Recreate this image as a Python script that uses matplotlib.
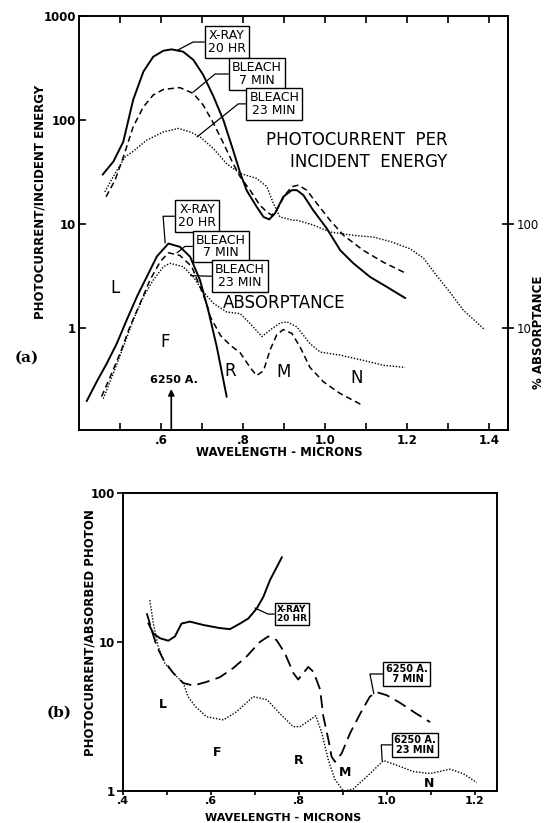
import numpy as np
import matplotlib.pyplot as plt

plt.rcParams['font.family'] = ['DejaVu Sans']

# ---- panel (a): photocurrent per incident energy ----
pe_xray_x = [0.458, 0.484, 0.508, 0.532, 0.557, 0.581, 0.606, 0.626, 0.654, 0.679, 0.703, 0.728, 0.752,
             0.776, 0.793, 0.809, 0.833, 0.850, 0.864, 0.878, 0.898, 0.919, 0.931, 0.947, 0.971, 1.004,
             1.037, 1.069, 1.110, 1.150, 1.195]
pe_xray_y = [30, 40, 62, 156, 292, 406, 464, 478, 454, 378, 271, 168, 100,
             51, 31, 21, 14.7, 11.7, 11.1, 12.7, 18.3, 21.2, 21.2, 19, 13.6, 9.1,
             5.6, 4.2, 3.1, 2.5, 1.95]

pe_b7_x = [0.466, 0.488, 0.508, 0.532, 0.557, 0.581, 0.606, 0.646, 0.679, 0.703, 0.728, 0.752, 0.776,
           0.793, 0.817, 0.841, 0.858, 0.870, 0.882, 0.902, 0.919, 0.935, 0.955, 0.980, 1.012, 1.045,
           1.093, 1.142, 1.195]
pe_b7_y = [18.3, 26.5, 44, 86, 134, 174, 197, 205, 180, 139, 93, 60, 38,
           28.5, 21.2, 15.2, 13.1, 12.2, 13.6, 19, 22.9, 23.7, 21.2, 15.8, 10.9, 7.8,
           5.6, 4.3, 3.4]

pe_b23_x = [0.463, 0.488, 0.512, 0.532, 0.565, 0.606, 0.642, 0.671, 0.695, 0.728, 0.760, 0.793, 0.833,
            0.858, 0.874, 0.890, 0.923, 0.931, 0.971, 1.012, 1.069, 1.118, 1.159, 1.207, 1.240, 1.272,
            1.305, 1.337, 1.390]
pe_b23_y = [20.4, 30.7, 44, 50, 64, 77, 83, 77, 69, 53, 38, 30.7, 27.5,
            22.9, 15.8, 11.7, 10.9, 10.9, 9.8, 8.4, 7.8, 7.5, 6.8, 5.8, 4.7, 3.2,
            2.2, 1.49, 0.96]

# ---- panel (a): absorptance ----
ab_xray_x = [0.419, 0.443, 0.468, 0.492, 0.516, 0.541, 0.565, 0.590, 0.618, 0.646, 0.671, 0.695, 0.715,
             0.736, 0.760]
ab_xray_y = [0.20, 0.305, 0.46, 0.71, 1.19, 2.0, 3.1, 4.9, 6.5, 6.05, 4.85, 2.9, 1.49, 0.66, 0.22]

ab_b7_x = [0.455, 0.476, 0.500, 0.524, 0.549, 0.573, 0.598, 0.618, 0.646, 0.675, 0.695, 0.711, 0.720,
           0.745, 0.770, 0.793, 0.817, 0.833, 0.850, 0.866, 0.882, 0.898, 0.919, 0.939, 0.963, 0.996,
           1.037, 1.093]
ab_b7_y = [0.22, 0.34, 0.57, 1.03, 1.73, 2.9, 4.35, 5.3, 5.0, 3.9, 2.5, 1.73, 1.29,
           0.85, 0.68, 0.58, 0.42, 0.35, 0.39, 0.62, 0.86, 0.97, 0.89, 0.66, 0.42, 0.305,
           0.235, 0.18]

ab_b23_x = [0.459, 0.484, 0.508, 0.532, 0.557, 0.581, 0.606, 0.622, 0.654, 0.679, 0.703, 0.728, 0.760,
            0.793, 0.817, 0.846, 0.866, 0.890, 0.907, 0.931, 0.963, 0.988, 1.037, 1.093, 1.142, 1.195]
ab_b23_y = [0.21, 0.37, 0.66, 1.19, 2.0, 2.9, 3.9, 4.2, 3.9, 3.1, 2.24, 1.73, 1.43,
            1.38, 1.11, 0.83, 0.96, 1.12, 1.15, 1.03, 0.71, 0.59, 0.55, 0.49, 0.44, 0.42]

# ---- panel (b): photocurrent per absorbed photon ----
ph_xray_x = [0.458, 0.469, 0.484, 0.503, 0.518, 0.533, 0.552, 0.583, 0.620, 0.643, 0.666, 0.685, 0.704,
             0.719, 0.734, 0.761]
ph_xray_y = [13.3, 11.4, 10.6, 10.2, 10.9, 13.3, 13.7, 13.0, 12.4, 12.2, 13.3, 14.4, 16.8,
             20.1, 26, 37]

ph_b7_x = [0.454, 0.465, 0.477, 0.492, 0.514, 0.537, 0.560, 0.590, 0.620, 0.651, 0.681, 0.711, 0.730,
           0.749, 0.768, 0.787, 0.798, 0.810, 0.821, 0.833, 0.848, 0.855, 0.867, 0.874, 0.882, 0.897,
           0.916, 0.939, 0.961, 0.977, 0.999, 1.030, 1.067, 1.098]
ph_b7_y = [15.6, 12.1, 9.3, 7.6, 6.2, 5.3, 5.1, 5.4, 5.8, 6.7, 8.0, 10.0, 10.9,
           10.3, 8.4, 6.2, 5.6, 6.2, 6.8, 6.3, 4.8, 3.2, 2.2, 1.7, 1.57, 1.79,
           2.44, 3.3, 4.3, 4.6, 4.4, 3.9, 3.3, 2.9]

ph_b23_x = [0.461, 0.469, 0.480, 0.495, 0.514, 0.537, 0.548, 0.564, 0.590, 0.628, 0.658, 0.696, 0.727,
            0.757, 0.787, 0.802, 0.825, 0.838, 0.852, 0.867, 0.882, 0.901, 0.923, 0.954, 0.992, 1.022,
            1.060, 1.098, 1.143, 1.173, 1.204]
ph_b23_y = [19.1, 13.3, 9.3, 7.2, 6.2, 5.3, 4.3, 3.7, 3.15, 3.0, 3.4, 4.3, 4.1,
            3.3, 2.7, 2.7, 3.0, 3.2, 2.44, 1.6, 1.19, 1.0, 1.03, 1.25, 1.6, 1.49,
            1.35, 1.31, 1.4, 1.31, 1.14]

top_yticks = [1, 10, 100, 1000]
top_ylabels = ['1', '10', '100', '1000']
abs_ticks = [10, 100]
top_xlabels = ['', '.6', '', '.8', '', '1.0', '', '1.2', '', '1.4']
bot_yticks = [1, 10, 100]
bot_ylabels = ['1', '10', '100']
bot_xlabels = ['.4', '', '.6', '', '.8', '', '1.0', '', '1.2']

W, H = 544, 823
fig = plt.figure(figsize=(W / 100, H / 100), dpi=100)


def px(x0, y0, x1, y1):
    # pixel box (top-left origin) -> figure fraction rect
    return [x0 / W, 1 - y1 / H, (x1 - x0) / W, (y1 - y0) / H]


def box_label(ax, text, xy, xytext, arm, size, weight='normal'):
    ax.annotate(text, xy=xy, xytext=xytext, ha='center', va='center', fontsize=size,
                fontweight=weight, linespacing=0.95,
                bbox=dict(boxstyle='square,pad=0.25', fc='white', ec='black', lw=1.0),
                arrowprops=dict(arrowstyle='-', lw=0.9, color='black', relpos=(0, 0.5),
                                shrinkA=0, shrinkB=0,
                                connectionstyle=f'arc,angleA=180,armA={arm},angleB=0,armB=0,rad=0'))


solid = dict(color='black', lw=1.4)
dash_a = dict(color='black', lw=1.1, dashes=(4, 2.5))
dot = dict(color='black', lw=1.0, dashes=(1, 1.2))

# ================= panel (a) =================
ax = fig.add_axes(px(79, 16, 508, 430))
ax.set_yscale('log')
ax.set_xlim(0.4, 1.446)
ax.set_ylim(0.105, 1000)

ax.plot(pe_xray_x, pe_xray_y, **solid)
ax.plot(pe_b7_x, pe_b7_y, **dash_a)
ax.plot(pe_b23_x, pe_b23_y, **dot)
ax.plot(ab_xray_x, ab_xray_y, **solid)
ax.plot(ab_b7_x, ab_b7_y, **dash_a)
ax.plot(ab_b23_x, ab_b23_y, **dot)

ax.set_yticks(top_yticks)
ax.set_yticklabels(top_ylabels)
ax.yaxis.set_minor_locator(plt.NullLocator())
ax.set_xticks(np.arange(0.5, 1.41, 0.1))
ax.set_xticklabels(top_xlabels)
ax.tick_params(axis='x', direction='in', top=True, length=5, width=1.2, pad=3, labelsize=8.5)
ax.tick_params(axis='y', direction='in', length=5, width=1.2, pad=2, labelsize=8.5)
for lab in ax.get_xticklabels() + ax.get_yticklabels():
    lab.set_fontweight('bold')
for s in ax.spines.values():
    s.set_linewidth(1.4)

sec = ax.secondary_yaxis('right', functions=(lambda v: v * 10, lambda v: v / 10))
sec.set_yticks(abs_ticks)
sec.set_yticklabels([str(t) for t in abs_ticks])
sec.yaxis.set_minor_locator(plt.NullLocator())
sec.tick_params(direction='inout', length=8, width=1.2, labelsize=8.5, pad=2)
sec.spines['right'].set_linewidth(1.4)

box_label(ax, 'X-RAY\n20 HR', (0.641, 471), (0.761, 562), 15, 9)
box_label(ax, 'BLEACH\n7 MIN', (0.678, 185), (0.834, 277), 17, 9)
box_label(ax, 'BLEACH\n23 MIN', (0.688, 69), (0.876, 143), 11, 9)
box_label(ax, 'X-RAY\n20 HR', (0.61, 6.6), (0.688, 11.9), 15, 9)
box_label(ax, 'BLEACH\n7 MIN', (0.639, 5.3), (0.746, 6.1), 11, 9)
box_label(ax, 'BLEACH\n23 MIN', (0.672, 3.2), (0.793, 3.16), 8, 9)

ax.text(1.298, 50, 'PHOTOCURRENT  PER\nINCIDENT  ENERGY', ha='right', va='center',
        multialignment='right', fontsize=12, linespacing=1.3)
ax.text(0.751, 1.74, 'ABSORPTANCE', ha='left', va='center', fontsize=12)

for lt, lx, ly in [('L', 0.488, 2.43), ('F', 0.61, 0.73), ('R', 0.768, 0.39),
                   ('M', 0.898, 0.38), ('N', 1.078, 0.33)]:
    ax.text(lx, ly, lt, ha='center', va='center', fontsize=12)

ax.annotate('', xy=(0.625, 0.26), xytext=(0.625, 0.105),
            arrowprops=dict(arrowstyle='-|>', lw=1.2, color='black', mutation_scale=9,
                            shrinkA=0, shrinkB=0))
ax.text(0.632, 0.316, '6250 A.', ha='center', va='center', fontsize=8, fontweight='bold')

fig.text(40 / W, 1 - 202 / H, 'PHOTOCURRENT/INCIDENT ENERGY', rotation=90, ha='center',
         va='center', fontsize=8.5, fontweight='bold')
fig.text(538 / W, 1 - 332 / H, '% ABSORPTANCE', rotation=90, ha='center', va='center',
         fontsize=8.5, fontweight='bold')
fig.text(279 / W, 1 - 453 / H, 'WAVELENGTH - MICRONS', ha='center', va='center',
         fontsize=8.5, fontweight='bold')
fig.text(27 / W, 1 - 358 / H, '(a)', ha='center', va='center', fontsize=11,
         fontweight='bold', family='DejaVu Serif')

# ================= panel (b) =================
bx = fig.add_axes(px(123, 493, 497, 791))
bx.set_yscale('log')
bx.set_xlim(0.4, 1.25)
bx.set_ylim(1, 100)

bx.plot(ph_xray_x, ph_xray_y, **solid)
bx.plot(ph_b7_x, ph_b7_y, color='black', lw=1.3, dashes=(7, 3.5))
bx.plot(ph_b23_x, ph_b23_y, **dot)

bx.set_yticks(bot_yticks)
bx.set_yticklabels(bot_ylabels)
bx.yaxis.set_minor_locator(plt.NullLocator())
bx.set_xticks(np.arange(0.4, 1.21, 0.1))
bx.set_xticklabels(bot_xlabels)
bx.tick_params(axis='y', direction='out', length=4, width=1.2, pad=2, labelsize=8.5)
bx.tick_params(axis='x', direction='out', length=3, width=1.2, pad=0.5, labelsize=8)
for lab in bx.get_xticklabels() + bx.get_yticklabels():
    lab.set_fontweight('bold')
for s in bx.spines.values():
    s.set_linewidth(1.4)

box_label(bx, 'X-RAY\n20 HR', (0.70, 16.9), (0.784, 15.4), 9, 6.5, 'bold')
box_label(bx, '6250 A.\n 7 MIN', (0.97, 4.5), (1.045, 6.1), 16, 7, 'bold')
box_label(bx, '6250 A.\n23 MIN', (0.989, 1.6), (1.064, 2.04), 13, 7, 'bold')

for lt, lx, ly in [('L', 0.491, 3.78), ('F', 0.614, 1.8), ('R', 0.80, 1.61),
                   ('M', 0.905, 1.34), ('N', 1.095, 1.13)]:
    bx.text(lx, ly, lt, ha='center', va='center', fontsize=9, fontweight='bold')

fig.text(90 / W, 1 - 633 / H, 'PHOTOCURRENT/ABSORBED PHOTON', rotation=90, ha='center',
         va='center', fontsize=8.5, fontweight='bold')
fig.text(283 / W, 1 - 818 / H, 'WAVELENGTH - MICRONS', ha='center', va='center',
         fontsize=8, fontweight='bold')
fig.text(59 / W, 1 - 713 / H, '(b)', ha='center', va='center', fontsize=11,
         fontweight='bold', family='DejaVu Serif')

fig.savefig('out.png', dpi=100)
